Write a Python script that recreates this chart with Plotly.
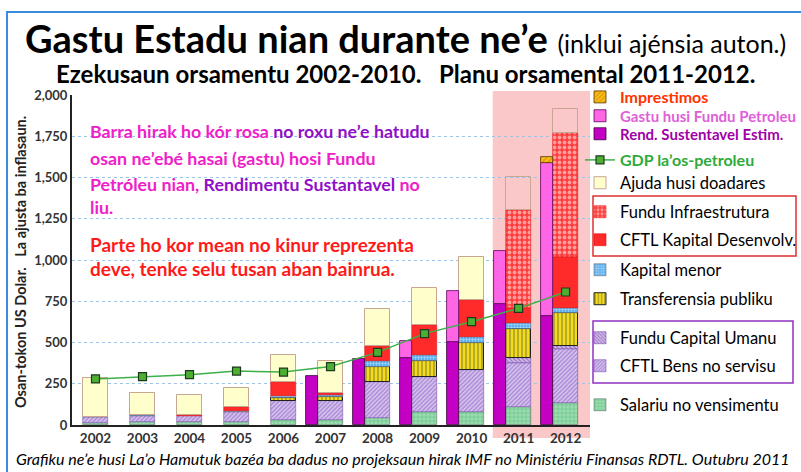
import plotly.graph_objects as go

years = [2002, 2003, 2004, 2005, 2006, 2007, 2008, 2009, 2010, 2011, 2012]
tick_labels = [str(y) for y in years]

# stacked spending bars (US$ millions, bottom to top)
salariu = [15, 18, 18, 20, 30, 30, 40, 81, 81, 111, 135]
bens_servisu = [32, 39, 37, 60, 115, 115, 223, 212, 252, 267, 326]
fundu_capital_umanu = [0, 0, 0, 0, 0, 0, 0, 0, 0, 30, 20]
transferensia = [0, 0, 0, 0, 20, 27, 87, 97, 166, 172, 196]
kapital_menor = [3, 3, 0, 3, 13, 8, 40, 34, 36, 36, 30]
kapital_desenvolv = [0, 0, 5, 28, 81, 12, 89, 182, 223, 91, 313]
fundu_infraestrutura = [0, 0, 0, 0, 0, 0, 0, 0, 0, 596, 748]
ajuda_doadares = [235, 132, 122, 115, 163, 198, 226, 222, 258, 198, 145]

# petroleum fund bars
rend_sustentavel = [0, 0, 0, 0, 0, 299, 398, 408, 505, 733, 663]
gastu_fundu = [0, 0, 0, 0, 0, 0, 0, 103, 309, 324, 927]
imprestimos = [0, 0, 0, 0, 0, 0, 0, 0, 0, 0, 32]

gdp_non_oil = [279, 293, 305, 327, 321, 354, 440, 554, 626, 707, 806]

W, H = 801, 472
L, R, T, B = 72, 590, 95, 425


def px(x):
    return (x - L) / (R - L)


def py(y):
    return (B - y) / (B - T)


def nz(vals):
    return [v if v else None for v in vals]


FONT = "Lato"
stack_w = 0.53
pf_w = 0.245
pf_x = [y - 0.39 for y in years]

fig = go.Figure()
legends = {}
LEG_X = 580


def legend_slot(key, cy, size=16.5, bold=False):
    legends[key] = dict(
        x=px(LEG_X), y=py(cy), xanchor="left", yanchor="middle",
        bgcolor="rgba(0,0,0,0)", itemwidth=30,
        font=dict(size=size, family=FONT, color="black", weight="bold" if bold else "normal"),
    )
    return key


def add_stack(vals, name, color, leg, pattern=None, line_color="rgba(60,60,60,0.7)", line_w=0.6):
    marker = dict(color=color, line=dict(color=line_color, width=line_w))
    if pattern:
        marker["pattern"] = pattern
    fig.add_trace(go.Bar(x=years, y=nz(vals), width=stack_w, name=name, marker=marker, legend=leg))


add_stack(salariu, "Salariu no vensimentu", "#9BDDB0", legend_slot("legend12", 405),
          dict(shape="+", fgcolor="#3FAE6A", size=4, solidity=0.35))
add_stack(bens_servisu, "CFTL Bens no servisu", "#D9C6EE", legend_slot("legend11", 366),
          dict(shape="/", fgcolor="#7E4FBF", size=3, solidity=0.5), "#7A4FB0")
add_stack(fundu_capital_umanu, "Fundu Capital Umanu", "#D9C6EE", legend_slot("legend10", 338),
          dict(shape="\\", fgcolor="#6A38A8", size=3, solidity=0.55), "#7A4FB0")
add_stack(transferensia, "Transferensia publiku", "#F2DC1E", legend_slot("legend9", 299),
          dict(shape="|", fgcolor="#333333", size=4, solidity=0.3), "#222222", 1)
add_stack(kapital_menor, "Kapital menor", "#5BB0F0", legend_slot("legend8", 270),
          dict(shape="+", fgcolor="white", size=3, solidity=0.35))
add_stack(kapital_desenvolv, "CFTL Kapital Desenvolv.", "#FF2A2A", legend_slot("legend7", 240),
          None, "#E01010")
add_stack(fundu_infraestrutura, "Fundu Infraestrutura", "#FF3B3B", legend_slot("legend6", 212),
          dict(shape=".", fgcolor="white", size=5, solidity=0.45), "#E01010")

ajuda_colors = ["#FFFFCC" if y < 2011 else "rgba(0,0,0,0)" for y in years]
fig.add_trace(go.Bar(
    x=years, y=ajuda_doadares, width=stack_w, name="Ajuda husi doadares",
    marker=dict(color=ajuda_colors, line=dict(color="#C9A594", width=1)),
    legend=legend_slot("legend5", 183),
))

fig.add_trace(go.Scatter(
    x=years, y=gdp_non_oil, mode="lines+markers",
    name="<span style='color:#2EAA3A'>GDP la’os-petroleu</span>",
    line=dict(color="#3DB04A", width=1.5),
    marker=dict(symbol="square", size=8, color="#4CAF32", line=dict(color="#1E3A1E", width=1.2)),
    legend=legend_slot("legend4", 160, 16, True),
))

fig.add_trace(go.Bar(
    x=pf_x, y=nz(rend_sustentavel), width=pf_w,
    name="<span style='color:#A000A8'>Rend. Sustentavel Estim.</span>",
    marker=dict(color="#C400C4", line=dict(color="#3A003A", width=0.8)),
    legend=legend_slot("legend3", 134, 15, True),
))
fig.add_trace(go.Bar(
    x=pf_x, y=nz(gastu_fundu), width=pf_w,
    name="<span style='color:#E060D8'>Gastu husi Fundu Petroleu</span>",
    marker=dict(color="#FF66E6", line=dict(color="#5A005A", width=0.8)),
    legend=legend_slot("legend2", 116, 15, True),
))
fig.add_trace(go.Bar(
    x=pf_x, y=nz(imprestimos), width=pf_w,
    name="<span style='color:#FF3300'>Imprestimos</span>",
    marker=dict(color="#F5C518", line=dict(color="#5A3A00", width=0.8),
                pattern=dict(shape="/", fgcolor="#E07000", size=4, solidity=0.5)),
    legend=legend_slot("legend", 97, 16, True),
))

shapes = [
    # pink band for the budget plan years
    dict(type="rect", xref="x", yref="paper", x0=2010.45, x1=2012.52,
         y0=py(438), y1=py(91), fillcolor="#FAC8C8", line=dict(width=0), layer="below"),
    # outer frame
    dict(type="rect", xref="paper", yref="paper", x0=px(7), x1=px(812),
         y0=py(490), y1=py(12), line=dict(color="#3A8DDE", width=2)),
    # legend boxes
    dict(type="rect", xref="paper", yref="paper", x0=px(593), x1=px(796),
         y0=py(256), y1=py(196), line=dict(color="#E03030", width=1.5)),
    dict(type="rect", xref="paper", yref="paper", x0=px(593), x1=px(793),
         y0=py(383), y1=py(321), line=dict(color="#9030C0", width=1.5)),
]

PINK = "#F020C8"
PURPLE = "#9010C8"
note_lines = [
    (131, 17.8, f"<span style='color:{PINK}'>Barra hirak ho kór rosa</span> <span style='color:{PURPLE}'>no roxu ne’e hatudu</span>"),
    (158, 17.8, f"<span style='color:{PINK}'>osan ne’ebé hasai (gastu) hosi Fundu</span>"),
    (184, 17.8, f"<span style='color:{PINK}'>Petróleu nian,</span> <span style='color:{PURPLE}'>Rendimentu Sustantavel</span> <span style='color:{PINK}'>no</span>"),
    (207, 17.8, f"<span style='color:{PINK}'>liu.</span>"),
    (244, 19, "<span style='color:#FF1A1A'>Parte ho kor mean no kinur reprezenta</span>"),
    (268, 19, "<span style='color:#FF1A1A'>deve, tenke selu tusan aban bainrua.</span>"),
]

annotations = [
    dict(x=px(23), y=py(38), xanchor="left", yanchor="middle",
         text="<b>Gastu Estadu nian durante ne’e</b> <span style='font-size:25px'>(inklui ajénsia auton.)</span>",
         font=dict(size=38, family=FONT, color="black")),
    dict(x=px(405), y=py(73), xanchor="center", yanchor="middle",
         text="<b>Ezekusaun orsamentu 2002-2010.   Planu orsamental 2011-2012.</b>",
         font=dict(size=24, family=FONT, color="black")),
    dict(x=px(20), y=py(262), xanchor="center", yanchor="middle", textangle=-90,
         text="<b>Osan-tokon US Dolar.   La ajusta ba inflasaun.</b>",
         font=dict(size=14.5, family=FONT, color="#222222")),
    dict(x=px(403), y=py(458), xanchor="center", yanchor="middle",
         text="<i>Grafiku ne’e husi La’o Hamutuk bazéa ba dadus no projeksaun hirak IMF no Ministériu Finansas RDTL. Outubru 2011</i>",
         font=dict(size=16, family=FONT, color="black")),
]
for cy, size, txt in note_lines:
    annotations.append(dict(x=px(88), y=py(cy), xanchor="left", yanchor="middle",
                            text=f"<b>{txt}</b>", font=dict(size=size, family=FONT)))
for a in annotations:
    a["showarrow"] = False
    a["xref"] = "paper"
    a["yref"] = "paper"

fig.update_layout(
    width=W, height=H,
    margin=dict(l=L, r=W - R, t=T, b=H - B, autoexpand=False),
    paper_bgcolor="white", plot_bgcolor="rgba(0,0,0,0)",
    barmode="relative", bargap=0,
    font=dict(family=FONT, color="black"),
    showlegend=True,
    xaxis=dict(
        range=[2001.5, 2012.52], tickmode="array", tickvals=years, ticktext=tick_labels,
        showgrid=False, showline=True, linecolor="#222222", linewidth=2,
        tickfont=dict(size=13.5, family=FONT, color="#333333", weight="bold"), ticks="",
    ),
    yaxis=dict(
        range=[0, 2000], tickmode="array", tickvals=list(range(0, 2001, 250)),
        tickformat=",", showgrid=True, gridcolor="#9DC3E6", griddash="dot", gridwidth=1.2,
        showline=True, linecolor="#222222", linewidth=2, zeroline=False,
        tickfont=dict(size=13, family=FONT, color="#333333", weight="bold"), ticks="",
    ),
    shapes=shapes,
    annotations=annotations,
    **legends,
)

# the page body has a default margin; drop it so the figure fills the window
fig.write_html("out.html", config={"displayModeBar": False},
               post_script="document.body.style.margin = '0px';")
